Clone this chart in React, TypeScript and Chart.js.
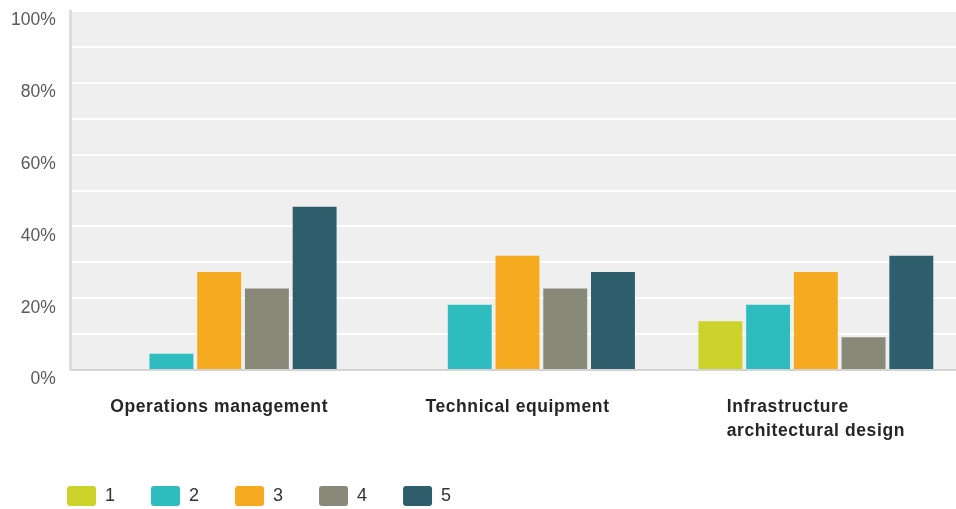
import React, { useEffect, useRef } from 'react';
import { Chart, registerables } from 'chart.js';

Chart.register(...registerables);

// ---- data ----
const categories: string[][] = [
  ['Operations management'],
  ['Technical equipment'],
  ['Infrastructure', 'architectural design'],
];
const seriesNames = ['1', '2', '3', '4', '5'];
const series1 = [0, 0, 13.6];
const series2 = [4.5, 18.2, 18.2];
const series3 = [27.3, 31.8, 27.3];
const series4 = [22.7, 22.7, 9.1];
const series5 = [45.5, 27.3, 31.8];
const seriesColors = ['#cbd32a', '#2fbcbf', '#f5aa1f', '#898979', '#2e5e6b'];
const yMin = 0;
const yMax = 100;
const yStep = 10;
const yLabelEvery = 20;

const plotBg = {
  id: 'plotBg',
  beforeDraw(chart: any) {
    const { ctx, chartArea: a } = chart;
    ctx.save();
    ctx.fillStyle = '#efefef';
    ctx.fillRect(a.left, a.top - 1, a.right - a.left, a.bottom - a.top + 1);
    ctx.restore();
  },
};

const xLabels = {
  id: 'xLabels',
  afterDraw(chart: any) {
    const scale = chart.scales.x;
    const ctx = chart.ctx;
    ctx.save();
    ctx.font = 'bold 17.5px "Liberation Sans", Arial, sans-serif';
    (ctx as any).letterSpacing = '0.6px';
    ctx.fillStyle = '#262626';
    ctx.textAlign = 'left';
    ctx.textBaseline = 'alphabetic';
    categories.forEach((lines, i) => {
      const cx = scale.getPixelForTick(i);
      const w = Math.max(...lines.map((l) => ctx.measureText(l).width));
      lines.forEach((line, j) => {
        ctx.fillText(line, cx - w / 2, scale.top + 42 + j * 24);
      });
    });
    ctx.restore();
  },
};

export default function App() {
  const ref = useRef<HTMLCanvasElement | null>(null);

  useEffect(() => {
    document.body.style.margin = '0';
    document.body.style.overflow = 'hidden';
    document.documentElement.style.overflow = 'hidden';
    const all = [series1, series2, series3, series4, series5];
    const chart = new Chart(ref.current as HTMLCanvasElement, {
      type: 'bar',
      data: {
        labels: categories,
        datasets: all.map((d, i) => ({
          label: seriesNames[i],
          data: d,
          backgroundColor: seriesColors[i],
          borderColor: seriesColors[i],
          borderWidth: 0,
          categoryPercentage: 0.8,
          barPercentage: 0.92,
        })),
      },
      options: {
        animation: false,
        responsive: true,
        maintainAspectRatio: false,
        layout: { padding: { left: 31, top: 11, right: 0, bottom: 0 } },
        plugins: {
          tooltip: { enabled: false },
          legend: {
            position: 'bottom',
            align: 'start',
            labels: {
              boxWidth: 29,
              boxHeight: 20,
              padding: 36,
              color: '#333333',
              useBorderRadius: true,
              borderRadius: 3,
              font: { size: 18, family: '"Liberation Sans", Arial, sans-serif' },
            },
          },
        },
        scales: {
          x: {
            grid: { display: false },
            border: { display: true, color: '#d3d3d3', width: 2 },
            ticks: { display: false },
            afterFit(scale: any) {
              scale.height = 80;
              scale.paddingLeft = 0;
              scale.paddingRight = 0;
            },
          },
          y: {
            min: yMin,
            max: yMax,
            grid: { color: '#ffffff', lineWidth: 2, drawTicks: false },
            border: { display: true, color: '#dcdcdc', width: 3 },
            ticks: {
              stepSize: yStep,
              autoSkip: false,
              mirror: true,
              crossAlign: 'far',
              padding: -59,
              color: '#595959',
              font: { size: 17.5, family: '"Liberation Sans", Arial, sans-serif', lineHeight: 1.1 },
              callback: (v: any) => (Number(v) % yLabelEvery === 0 ? ['', v + '%'] : ''),
            },
            afterFit(scale: any) {
              scale.width = 39;
              scale.paddingTop = 0;
              scale.paddingBottom = 0;
            },
          },
        },
      },
      plugins: [plotBg, xLabels],
    });
    return () => chart.destroy();
  }, []);

  return (
    <div style={{ position: 'relative', width: 965, height: 516 }}>
      <canvas ref={ref} />
    </div>
  );
}
